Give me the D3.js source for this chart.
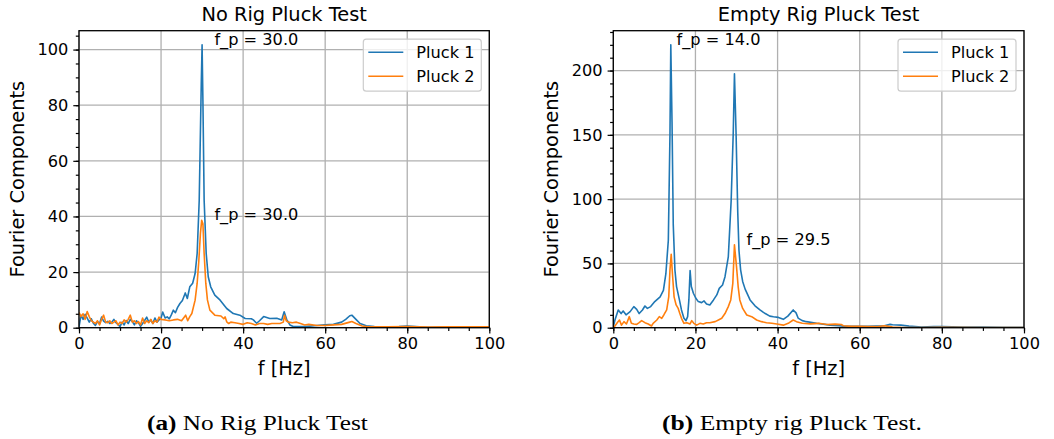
<!DOCTYPE html>
<html>
<head>
<meta charset="utf-8">
<script src="https://cdn.jsdelivr.net/npm/d3@7"></script>
<style>
  body { margin: 0; background: #fff; }
  text { font-family: "DejaVu Sans", sans-serif; fill: #000; }
  .caption { font-family: "Liberation Serif", "DejaVu Serif", serif; }
</style>
</head>
<body>
<svg id="fig" width="1054" height="439"></svg>
<script>
// spectra: [f (Hz), Fourier component]
const noRigPluck1 = [[0,0.3],[0.5,4.5],[1,3.0],[1.5,4.8],[2,3.4],[2.5,2.0],[3,3.2],[3.5,1.6],[4,0.8],[4.5,2.2],[5,1.4],[5.5,3.8],[6,2.4],[6.5,1.8],[7,2.3],[7.5,1.5],[8,2.0],[8.5,3.0],[9,1.8],[9.5,1.2],[10,0.4],[10.5,2.0],[11,1.0],[11.5,2.6],[12,1.5],[12.5,3.0],[13,2.2],[13.5,1.0],[14,2.5],[14.5,1.8],[15,0.5],[15.5,1.5],[16,2.6],[16.5,3.8],[17,2.0],[17.5,2.8],[18,1.5],[18.5,3.5],[19,2.0],[19.5,2.8],[20,3.5],[20.4,5.6],[21,3.5],[21.5,3.9],[22,3.2],[22.5,4.6],[23,6.3],[23.5,5.4],[24,7.2],[24.6,8.7],[25.2,9.8],[25.9,12.5],[26.4,10.5],[27,14.7],[27.7,16.0],[28.3,19.5],[28.8,26.7],[29.3,45.8],[29.8,87.7],[30,101.7],[30.2,81.7],[30.5,45.8],[31,26.7],[31.5,18.3],[32.1,14.7],[33.1,11.7],[34.4,9.9],[36,6.9],[37.6,5.1],[39.2,4.5],[40.5,3.3],[42,3.2],[42.5,2.8],[43.3,1.6],[44,2.5],[45,4.0],[46.5,3.3],[48.2,3.4],[49.4,2.8],[50,5.7],[50.6,3.0],[51.4,1.0],[52.2,0.4],[55,0.4],[58,0.8],[60,1.0],[62,1.2],[64,2.0],[65,3.0],[66,4.3],[66.5,4.5],[67.5,3.0],[68.5,1.5],[70,0.7],[72,0.4],[75,0.3],[78,0.4],[80,0.6],[82,0.4],[85,0.1],[90,0.2],[95,0.2],[100,0.2]];

const noRigPluck2 = [[0,5.5],[0.5,4.0],[1,5.0],[1.5,3.0],[2,5.8],[2.5,4.0],[3,2.5],[3.5,2.0],[4,1.5],[4.5,2.5],[5,1.0],[5.5,3.0],[6,4.5],[6.5,2.0],[7,1.8],[7.5,2.5],[8,1.5],[8.5,2.0],[9,2.5],[9.5,1.0],[10,2.0],[10.5,1.5],[11,2.8],[11.5,2.0],[12,3.0],[12.5,4.5],[13,2.0],[13.5,2.5],[14,1.5],[14.5,2.2],[15,1.0],[15.5,3.5],[16,1.5],[16.5,2.5],[17,1.8],[17.5,3.0],[18,1.5],[18.5,2.5],[19,2.0],[19.5,3.8],[20,3.0],[21,2.8],[22,2.5],[23,2.8],[24,3.0],[25,2.5],[26,4.5],[26.5,2.5],[27,4.0],[27.5,5.1],[28.3,9.9],[28.8,16],[29.2,24],[29.6,34],[29.9,38.6],[30.2,37.4],[30.5,26.7],[30.9,16],[31.3,10],[31.9,6.3],[33.1,4.5],[34.6,4.2],[35.3,3.2],[35.6,3.9],[36,2.1],[36.5,1.5],[37,2.0],[38,1.8],[39,1.5],[40,1.2],[41,1.8],[42,1.5],[43,1.0],[44,1.5],[45,1.5],[46,1.2],[47,1.5],[48,1.5],[49,1.5],[49.8,2.0],[50.1,4.5],[50.5,2.5],[51,2.0],[52,1.8],[53,2.0],[54,1.5],[55,1.0],[56,1.2],[58,0.8],[60,0.8],[62,1.0],[64,1.2],[66,2.0],[66.5,2.2],[67.5,1.5],[69,0.6],[70,0.4],[75,0.3],[80,0.4],[85,0.2],[90,0.3],[95,0.3],[100,0.3]];

const emptyRigPluck1 = [[0,0.5],[0.4,6],[1.2,13.8],[1.9,11],[2.4,13],[3.1,10],[4.1,12.5],[5.0,16.4],[5.7,14.3],[6.3,11],[7.1,13.8],[7.7,16.9],[8.3,15],[9.1,16.4],[10.1,20.3],[11.4,24],[12.2,29],[12.8,42],[13.4,68],[13.8,151],[14.0,220],[14.3,160],[14.6,80],[15.0,45],[15.4,32],[16.1,21.6],[16.6,13.8],[17.2,7.3],[17.7,5.5],[18.1,8.6],[18.4,21.6],[18.7,44.4],[19.0,32],[19.5,26.8],[20.1,22.9],[20.7,20.3],[21.5,19.5],[22.1,20.8],[22.7,18.4],[23.5,17.7],[24.4,21.6],[25.2,25.5],[25.8,30.6],[26.6,33.2],[27.2,39.7],[28.0,55],[28.7,99],[29.2,151],[29.5,197.5],[29.9,150],[30.3,90],[30.6,60],[31.0,45],[31.5,36],[32.1,30],[33.3,21.6],[34.5,17],[35.7,13.8],[37,11],[38.1,9],[39,8.5],[40.2,8],[41.4,6.5],[42.5,9],[43.8,13.8],[44.5,11.5],[45,7.5],[46,5.5],[47,4.7],[49.5,3.4],[52.8,2],[55,1.5],[56,1.2],[58,1],[60,1],[62,1],[64,1.2],[66,1.5],[67.4,2.6],[68,2.3],[70,2.0],[72,1.2],[75,0.6],[78,0.8],[80,0.8],[85,0.5],[90,0.5],[95,0.3],[100,0.3]];

const emptyRigPluck2 = [[0,0.5],[0.4,1.3],[1.0,4],[1.5,6],[2.0,2],[2.6,4.7],[3.2,2.9],[3.9,8.6],[4.4,3.4],[5.0,2.9],[5.7,2.6],[6.3,3.9],[6.9,5.5],[7.7,3.9],[8.5,2.9],[9.3,1.3],[9.7,3.4],[10.6,6],[11.2,8.6],[11.8,7.3],[12.3,9.9],[13.0,13.8],[13.5,24],[13.8,45],[14.1,57],[14.4,42],[14.8,24],[15.3,17.7],[15.8,15],[16.2,11],[16.6,7.3],[17.2,3.4],[17.9,3.9],[18.7,2.9],[19.1,5.5],[19.6,3.4],[20.3,2],[21.1,3.4],[21.9,2.9],[22.7,3.9],[23.5,3.9],[24.8,4.7],[25.6,6],[26.4,7.3],[27.2,11],[28.0,16.4],[28.6,21.6],[29.1,34.5],[29.5,64.4],[30.0,47.5],[30.4,32],[30.8,21.6],[31.5,15],[32.5,9.9],[33.7,8.6],[34.9,6],[36.1,4.7],[37.3,3.9],[38.6,3.4],[39.8,2.9],[41.4,2],[42.6,3.4],[43.8,6],[44.6,4.7],[46,3.5],[48,3],[50,3.4],[52,2.5],[54,2.8],[55.5,2.5],[56,1.5],[58,1.0],[60,1.0],[62,0.8],[64,0.8],[66,1.5],[67,1.0],[68,0.5],[70,0.3],[75,0.2],[80,0.3],[90,0.2],[100,0.2]];

// peak frequencies and their heights (annotations)
const noRigPeaks = [[30.0, 101.7], [30.0, 38.6]];
const emptyRigPeaks = [[14.0, 220], [29.5, 64.4]];

const seriesNames = ["Pluck 1", "Pluck 2"];
const colors = ["#1f77b4", "#ff7f0e"];
const xTicks = [0, 20, 40, 60, 80, 100];
const noRigYTicks = [0, 20, 40, 60, 80, 100];
const emptyRigYTicks = [0, 50, 100, 150, 200];

const svg = d3.select("#fig");

function drawPanel(opt) {
    let g = svg.append("g");
    let x = d3.scaleLinear().domain([0, 100]).range([opt.left, opt.right]);
    let yMax = d3.max(opt.series.flat(), d => d[1]) * 1.05;
    let y = d3.scaleLinear().domain([0, yMax]).range([opt.bottom, opt.top]);

    // grid
    g.selectAll(".gx").data(xTicks).join("line")
        .attr("x1", d => x(d)).attr("x2", d => x(d))
        .attr("y1", opt.top).attr("y2", opt.bottom)
        .attr("stroke", "#b0b0b0").attr("stroke-width", 1.3);
    g.selectAll(".gy").data(opt.yTicks).join("line")
        .attr("class", "gy")
        .attr("x1", opt.left).attr("x2", opt.right)
        .attr("y1", d => y(d)).attr("y2", d => y(d))
        .attr("stroke", "#b0b0b0").attr("stroke-width", 1.3);

    // lines, clipped to the axes
    let clipId = "clip" + opt.id;
    g.append("clipPath").attr("id", clipId).append("rect")
        .attr("x", opt.left).attr("y", opt.top)
        .attr("width", opt.right - opt.left).attr("height", opt.bottom - opt.top);
    let line = d3.line().x(d => x(d[0])).y(d => y(d[1]));
    opt.series.forEach(function(s, i) {
        g.append("path").datum(s)
            .attr("clip-path", "url(#" + clipId + ")")
            .attr("d", line)
            .attr("fill", "none")
            .attr("stroke", colors[i])
            .attr("stroke-width", 1.6)
            .attr("stroke-linejoin", "round");
    });

    // axes: major + minor ticks
    let fmt = d3.format("d");
    let xAxis = g.append("g").attr("transform", `translate(0,${opt.bottom})`)
        .call(d3.axisBottom(x).tickValues(xTicks).tickFormat(fmt).tickSize(5.7).tickPadding(4));
    let xMinor = g.append("g").attr("transform", `translate(0,${opt.bottom})`)
        .call(d3.axisBottom(x).tickValues(d3.range(0, 101, 5)).tickFormat("").tickSize(3.2));
    let yAxis = g.append("g").attr("transform", `translate(${opt.left},0)`)
        .call(d3.axisLeft(y).tickValues(opt.yTicks).tickFormat(fmt).tickSize(5.7).tickPadding(5));
    let yMinor = g.append("g").attr("transform", `translate(${opt.left},0)`)
        .call(d3.axisLeft(y).tickValues(d3.range(0, yMax, opt.yMinor)).tickFormat("").tickSize(3.2));
    [xAxis, xMinor, yAxis, yMinor].forEach(function(a) {
        a.select(".domain").remove();
        a.selectAll("line").attr("stroke", "#000").attr("stroke-width", 1.2);
        a.selectAll("text").style("font-size", "16.2px").attr("fill", "#000");
    });
    xAxis.selectAll("text").attr("dy", "0.71em");

    // spines
    g.append("rect")
        .attr("x", opt.left).attr("y", opt.top)
        .attr("width", opt.right - opt.left).attr("height", opt.bottom - opt.top)
        .attr("fill", "none").attr("stroke", "#000").attr("stroke-width", 1.3);

    // annotations
    g.selectAll(".ann").data(opt.peaks).join("text")
        .attr("x", d => x(d[0] * 1.1))
        .attr("y", d => y(d[1]))
        .style("font-size", "16.2px")
        .text(d => "f_p = " + d[0].toFixed(1));

    // title and labels
    let cx = (opt.left + opt.right) / 2;
    g.append("text").attr("x", cx).attr("y", 20.7)
        .attr("text-anchor", "middle").style("font-size", "19.4px").text(opt.title);
    g.append("text").attr("x", cx).attr("y", 375)
        .attr("text-anchor", "middle").style("font-size", "19.4px").text("f [Hz]");
    g.append("text")
        .attr("transform", `translate(${opt.yLabelX},${(opt.top + opt.bottom) / 2}) rotate(-90)`)
        .attr("text-anchor", "middle").style("font-size", "19.4px").text("Fourier Components");

    // legend
    let lx = opt.right - 8 - 118, ly = opt.top + 8.5;
    let leg = g.append("g");
    leg.append("rect").attr("x", lx).attr("y", ly).attr("width", 118).attr("height", 52)
        .attr("rx", 3).attr("fill", "#fff").attr("fill-opacity", 0.8)
        .attr("stroke", "#cccccc").attr("stroke-width", 1.2);
    seriesNames.forEach(function(name, i) {
        let yy = ly + 13 + i * 24;
        leg.append("line").attr("x1", lx + 5).attr("x2", lx + 40)
            .attr("y1", yy).attr("y2", yy)
            .attr("stroke", colors[i]).attr("stroke-width", 1.6);
        leg.append("text").attr("x", lx + 53).attr("y", yy + 6)
            .style("font-size", "16.2px").text(name);
    });

    // caption (original is a wider TeX font, so stretch glyphs to its width)
    let cap = svg.append("text").attr("class", "caption")
        .attr("transform", `translate(${opt.capX},430)`).style("font-size", "20px");
    cap.append("tspan").attr("font-weight", "bold").text(opt.capTag);
    cap.append("tspan").text(" " + opt.capText);
    let len = cap.node().getComputedTextLength();
    cap.attr("transform", `translate(${opt.capX},430) scale(${opt.capWidth / len},1)`);
}

drawPanel({
    id: "a", left: 79, right: 489.3, top: 30.7, bottom: 327.7,
    series: [noRigPluck1, noRigPluck2], peaks: noRigPeaks,
    yTicks: noRigYTicks, yMinor: 5, yLabelX: 23.5,
    title: "No Rig Pluck Test",
    capX: 147, capWidth: 221, capTag: "(a)", capText: "No Rig Pluck Test"
});

drawPanel({
    id: "b", left: 613.3, right: 1024, top: 30.7, bottom: 327.7,
    series: [emptyRigPluck1, emptyRigPluck2], peaks: emptyRigPeaks,
    yTicks: emptyRigYTicks, yMinor: 10, yLabelX: 558,
    title: "Empty Rig Pluck Test",
    capX: 662, capWidth: 260, capTag: "(b)", capText: "Empty rig Pluck Test."
});
</script>
</body>
</html>
